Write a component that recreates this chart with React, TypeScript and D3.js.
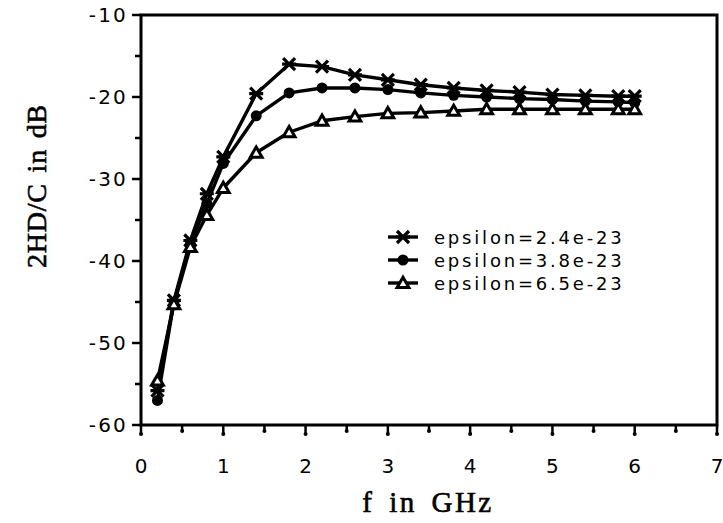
import React, { useEffect, useRef } from 'react';
import * as d3 from 'd3';

const freqs = [0.2, 0.4, 0.6, 0.8, 1.0, 1.4, 1.8, 2.2, 2.6, 3.0, 3.4, 3.8, 4.2, 4.6, 5.0, 5.4, 5.8, 6.0];
const eps24 = [-55.8, -44.8, -37.5, -31.8, -27.3, -19.6, -16.0, -16.3, -17.3, -17.9, -18.5, -18.9, -19.2, -19.4, -19.7, -19.8, -19.9, -19.9];
const eps38 = [-57.0, -45.0, -37.9, -33.0, -28.1, -22.3, -19.5, -18.9, -18.9, -19.1, -19.5, -19.8, -20.0, -20.2, -20.3, -20.5, -20.6, -20.7];
const eps65 = [-54.6, -45.3, -38.3, -34.4, -31.1, -26.8, -24.3, -22.9, -22.4, -22.0, -21.9, -21.7, -21.5, -21.5, -21.5, -21.5, -21.5, -21.5];
const seriesNames = ['epsilon=2.4e-23', 'epsilon=3.8e-23', 'epsilon=6.5e-23'];
const markerKinds = ['star', 'circle', 'triangle'];
const xTicks = [0, 1, 2, 3, 4, 5, 6, 7];
const yTicks = [-60, -50, -40, -30, -20, -10];

const W = 723;
const H = 523;

function drawMarker(g: any, kind: string, x: number, y: number) {
  if (kind === 'star') {
    const r = 6;
    g.append('path')
      .attr('d', `M${x - r},${y - r}L${x + r},${y + r}M${x - r},${y + r}L${x + r},${y - r}M${x - r - 1},${y}L${x + r + 1},${y}`)
      .attr('stroke', '#000').attr('stroke-width', 3.2).attr('fill', 'none');
  } else if (kind === 'circle') {
    g.append('circle').attr('cx', x).attr('cy', y).attr('r', 5.5).attr('fill', '#000');
  } else {
    g.append('path')
      .attr('transform', `translate(${x},${y + 1})`)
      .attr('d', d3.symbol(d3.symbolTriangle, 60)())
      .attr('fill', '#fff').attr('stroke', '#000').attr('stroke-width', 3);
  }
}

const App = () => {
  const ref = useRef<SVGSVGElement>(null);

  useEffect(() => {
    const svg = d3.select(ref.current);
    svg.selectAll('*').remove();

    const x = d3.scaleLinear().domain([0, 7]).range([141, 717]);
    const y = d3.scaleLinear().domain([-60, -10]).range([425, 15]);

    const sans = 'DejaVu Sans, sans-serif';

    // frame
    svg.append('path')
      .attr('d', `M${x(0)},${y(-60)}L${x(0)},${y(-10)}L${x(7)},${y(-10)}L${x(7)},${y(-60)}Z`)
      .attr('fill', 'none').attr('stroke', '#000').attr('stroke-width', 3);

    // x axis ticks
    const xMinor = d3.range(0, 7.01, 0.5);
    xMinor.forEach((v) => {
      const major = Math.abs(v - Math.round(v)) < 1e-6;
      const len = major ? 9 : 6;
      svg.append('line')
        .attr('x1', x(v)).attr('x2', x(v)).attr('y1', y(-60)).attr('y2', y(-60) + len)
        .attr('stroke', '#000').attr('stroke-width', 2.5);
      svg.append('circle').attr('cx', x(v)).attr('cy', y(-60) + len).attr('r', 2).attr('fill', '#000');
    });
    svg.selectAll('.xt').data(xTicks).join('text')
      .attr('x', (d) => x(d)).attr('y', 473)
      .attr('text-anchor', 'middle')
      .attr('font-family', sans).attr('font-size', 20)
      .text((d) => String(d));

    // y axis ticks
    const yMinor = d3.range(-60, -9.99, 5);
    yMinor.forEach((v) => {
      const major = v % 10 === 0;
      const len = major ? 9 : 6;
      svg.append('line')
        .attr('x1', x(0) - len).attr('x2', x(0)).attr('y1', y(v)).attr('y2', y(v))
        .attr('stroke', '#000').attr('stroke-width', 2.5);
    });
    svg.selectAll('.yt').data(yTicks).join('text')
      .attr('x', 128).attr('y', (d) => y(d) + 7)
      .attr('text-anchor', 'end')
      .attr('font-family', sans).attr('font-size', 20).attr('letter-spacing', 2.2)
      .text((d) => String(d));

    // titles
    svg.append('text')
      .attr('x', 428).attr('y', 512)
      .attr('text-anchor', 'middle')
      .attr('font-family', 'Liberation Serif, serif').attr('font-size', 29)
      .attr('letter-spacing', 2.5).attr('word-spacing', 5)
      .attr('stroke', '#000').attr('stroke-width', 0.6)
      .text('f in GHz');
    svg.append('text')
      .attr('transform', `translate(46,186) rotate(-90)`)
      .attr('text-anchor', 'middle')
      .attr('font-family', 'Liberation Serif, serif').attr('font-size', 28)
      .attr('letter-spacing', 0.8).attr('word-spacing', 3)
      .attr('stroke', '#000').attr('stroke-width', 0.6)
      .text('2HD/C in dB');

    // series
    const allSeries = [eps24, eps38, eps65];
    const line = d3.line<number>().x((d, i) => x(freqs[i])).y((d) => y(d));
    allSeries.forEach((vals, si) => {
      const g = svg.append('g');
      g.append('path').attr('d', line(vals))
        .attr('fill', 'none').attr('stroke', '#000').attr('stroke-width', 3.4)
        .attr('stroke-linejoin', 'round');
      vals.forEach((v, i) => drawMarker(g, markerKinds[si], x(freqs[i]), y(v)));
    });

    // legend
    seriesNames.forEach((name, i) => {
      const ly = 237 + i * 23;
      const g = svg.append('g');
      g.append('line').attr('x1', 388).attr('x2', 418).attr('y1', ly).attr('y2', ly)
        .attr('stroke', '#000').attr('stroke-width', 3.4);
      drawMarker(g, markerKinds[i], 403, ly);
      g.append('text').attr('x', 434).attr('y', ly + 7)
        .attr('font-family', sans).attr('font-size', 18).attr('letter-spacing', 2.8)
        .text(name);
    });
  }, []);

  return (
    <svg ref={ref} width={W} height={H} style={{ position: 'absolute', left: 0, top: 0, background: '#fff' }} />
  );
};

export default App;
